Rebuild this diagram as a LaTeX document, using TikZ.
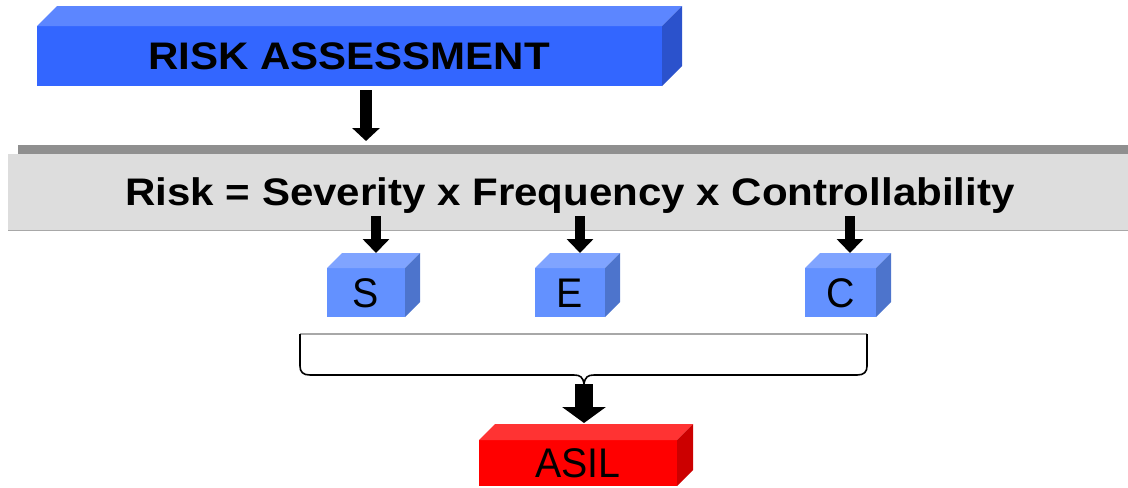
\documentclass[tikz,border=0pt]{standalone}
\usepackage{fontspec}
\setmainfont{Liberation Sans}
\usetikzlibrary{arrows.meta}

\definecolor{raFront}{HTML}{3366FF}
\definecolor{raTop}{HTML}{5C86FF}
\definecolor{raSide}{HTML}{2B52CC}
\definecolor{cubeFront}{HTML}{6391FF}
\definecolor{cubeTop}{HTML}{80A4FF}
\definecolor{cubeSide}{HTML}{4D74CC}
\definecolor{asilFront}{HTML}{FF0000}
\definecolor{asilTop}{HTML}{FF3333}
\definecolor{asilSide}{HTML}{CC0000}
\definecolor{bandDark}{HTML}{8F8F8F}
\definecolor{bandLight}{HTML}{DDDDDD}
\definecolor{bandEdge}{HTML}{A8A8A8}

% top and right faces of a box whose front face is node #1
\newcommand\prismsides[4]{%
  \fill[#3] (#1.north west) -- ++(#2,-#2) -- ([shift={(#2,-#2)}]#1.north east) -- (#1.north east) -- cycle;
  \fill[#4] (#1.north east) -- ++(#2,-#2) -- ([shift={(#2,-#2)}]#1.south east) -- (#1.south east) -- cycle;
}
% slightly widened bold and slightly narrowed regular lettering
\newcommand\widebold[1]{\scalebox{1.095}[1]{#1}}
\newcommand\narrowreg[1]{\scalebox{0.95}[1]{#1}}

\tikzset{
  front/.style={inner sep=0pt, outer sep=0pt, draw=none, text=black,
    text height=14.5pt, text depth=0pt},
  bigfont/.style={font=\fontsize{20.7pt}{25pt}\selectfont},
  boldfont/.style={font=\fontsize{19.2pt}{23pt}\selectfont\bfseries},
  smallarrow/.style={line width=5pt, -{Triangle[width=13pt,length=7pt]}},
  toparrow/.style={line width=6pt, -{Triangle[width=13.5pt,length=6.5pt]}},
  asilarrow/.style={line width=9pt, -{Triangle[width=21.5pt,length=8pt]}},
  bracestyle/.style={line width=0.8pt, black},
}

\begin{document}
\begin{tikzpicture}[x=0.5pt,y=-0.5pt]
\useasboundingbox (0,0) rectangle (1128,487);

% RISK ASSESSMENT block
\node[front, fill=raFront, minimum width=312.5pt, minimum height=30pt]
  (ra) at (349.5,56) {};
\node[boldfont, inner sep=0pt, text height=13.8pt, text depth=0pt]
  (raText) at (349,55.5) {\widebold{RISK ASSESSMENT}};
\prismsides{ra}{20}{raTop}{raSide}

% grey band with the risk formula
\fill[bandDark] (18,145) rectangle (1128,154);
\node[inner sep=0pt, outer sep=0pt, fill=bandLight, minimum width=560pt, minimum height=38pt]
  (band) at (568,192) {};
\draw[bandEdge, line width=0.5pt] (band.south west) -- (band.south east);
\node[boldfont, inner sep=0pt, text height=13.8pt, text depth=0pt]
  (eq) at (570,192) {\widebold{Risk = Severity x Frequency x Controllability}};

% S, E, C cubes
\node[front, bigfont, fill=cubeFront, minimum width=39pt, minimum height=24.5pt]
  (s) at (366,292.5) {\narrowreg{S}};
\node[front, bigfont, fill=cubeFront, minimum width=35pt, minimum height=24.5pt]
  (e) at (570,292.5) {\narrowreg{E}};
\node[front, bigfont, fill=cubeFront, minimum width=35.5pt, minimum height=24.5pt]
  (c) at (840.5,292.5) {\narrowreg{C}};
\prismsides{s}{15}{cubeTop}{cubeSide}
\prismsides{e}{15}{cubeTop}{cubeSide}
\prismsides{c}{15}{cubeTop}{cubeSide}

% ASIL block
\node[front, bigfont, fill=asilFront, minimum width=99pt, minimum height=23pt]
  (asil) at (578,463) {\narrowreg{ASIL}};
\prismsides{asil}{16}{asilTop}{asilSide}

% arrow from RISK ASSESSMENT to the band
\coordinate (raOut) at (366,90);
\coordinate (bandIn) at (366,141);
\draw[toparrow] (raOut) -- (bandIn);

% arrows from the formula to the cubes
\coordinate (sOut) at (376,216);  \coordinate (sIn) at (376,253);
\coordinate (eOut) at (580,216);  \coordinate (eIn) at (580,253);
\coordinate (cOut) at (850,216);  \coordinate (cIn) at (850,253);
\draw[smallarrow] (sOut) -- (sIn);
\draw[smallarrow] (eOut) -- (eIn);
\draw[smallarrow] (cOut) -- (cIn);

% brace gathering S, E and C
\coordinate (braceL) at (300,334);
\coordinate (braceR) at (867,334);
\coordinate (braceTip) at (584,384);
\draw[bandEdge, line width=0.6pt] (braceL) -- (braceR);
\draw[bracestyle] (braceL) -- (300,366) .. controls (300,372) and (303,375) .. (310,375)
  -- (574,375) .. controls (580,375) and (583,377) .. (braceTip)
  .. controls (585,377) and (588,375) .. (594,375)
  -- (857,375) .. controls (864,375) and (867,372) .. (867,366) -- (braceR);

% arrow to ASIL
\coordinate (asilIn) at (584,423);
\draw[asilarrow] (braceTip) -- (asilIn);
\end{tikzpicture}
\end{document}
